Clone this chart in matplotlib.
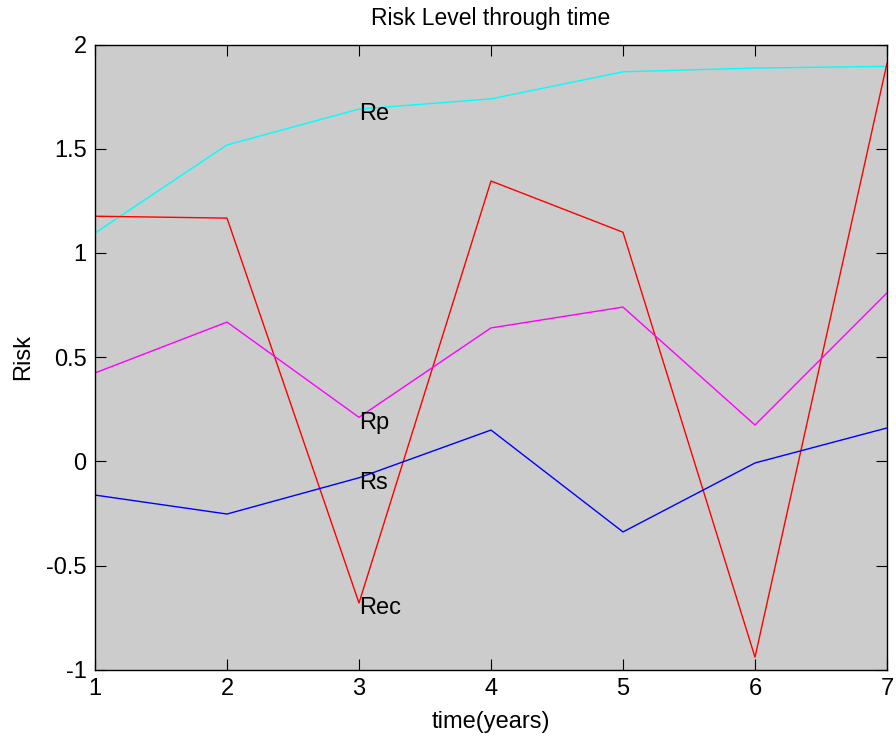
import matplotlib.pyplot as plt

plt.rcParams['font.family'] = ['Liberation Sans', 'DejaVu Sans']

years = [1, 2, 3, 4, 5, 6, 7]
Re = [1.095, 1.518, 1.69, 1.739, 1.869, 1.887, 1.895]
Rec = [1.176, 1.167, -0.68, 1.345, 1.099, -0.94, 1.91]
Rp = [0.424, 0.668, 0.211, 0.64, 0.74, 0.174, 0.808]
Rs = [-0.162, -0.253, -0.079, 0.150, -0.339, -0.008, 0.160]

fig = plt.figure(figsize=(8.96, 7.4), dpi=100)
ax = fig.add_axes([95 / 896, 1 - 669.7 / 740, 792 / 896, 625.2 / 740])
ax.set_facecolor('#cccccc')

ax.plot(years, Re, color='cyan', lw=1)
ax.plot(years, Rec, color='red', lw=1)
ax.plot(years, Rp, color='magenta', lw=1)
ax.plot(years, Rs, color='blue', lw=1)

# etykiety przy x=3
for name, s in [('Re', Re), ('Rp', Rp), ('Rs', Rs), ('Rec', Rec)]:
    ax.text(years[2], s[2] - 0.025, name, ha='left', va='center', fontsize=17)

ax.set_xlim(1, 7)
ax.set_ylim(-1, 2)
ax.set_xticks(years)
ax.set_yticks([-1, -0.5, 0, 0.5, 1, 1.5, 2])
ax.set_yticklabels(['-1', '-0.5', '0', '0.5', '1', '1.5', '2'])
ax.tick_params(direction='in', top=True, right=True, length=8, labelsize=17, pad=6)
for sp in ax.spines.values():
    sp.set_linewidth(1)

ax.set_title('Risk Level through time', fontsize=16.5, pad=14)
ax.set_xlabel('time(years)', fontsize=17, labelpad=8)
ax.set_ylabel('Risk', fontsize=17, labelpad=9)

plt.savefig('out.png', dpi=100)
